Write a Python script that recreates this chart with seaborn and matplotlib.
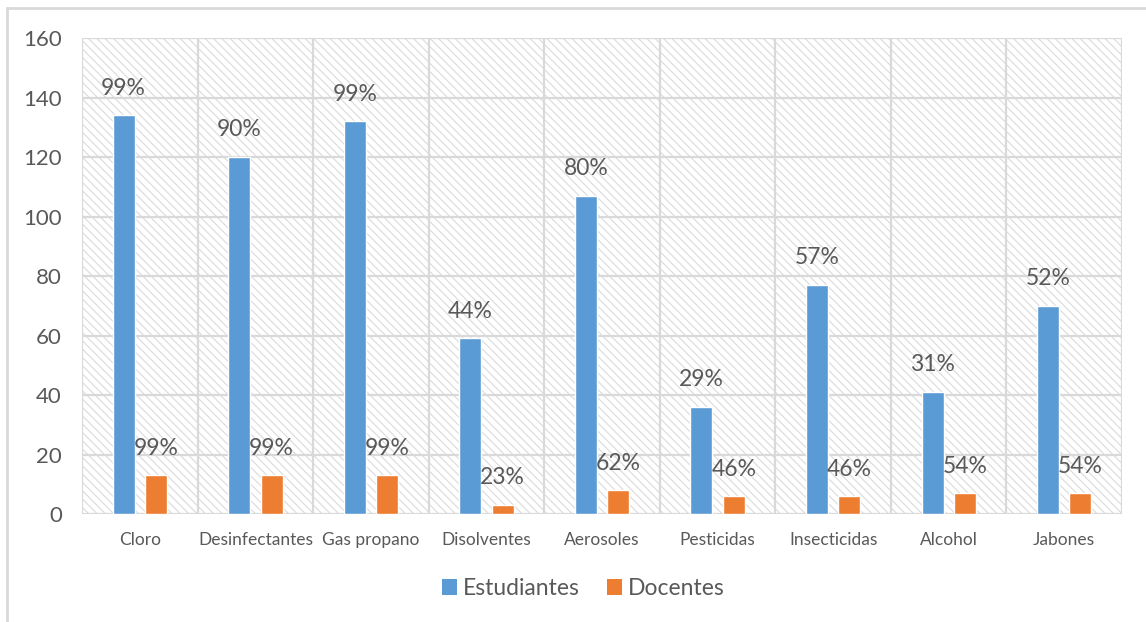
import matplotlib
matplotlib.use("Agg")
import matplotlib.pyplot as plt
from matplotlib.patches import Rectangle, Patch
from matplotlib.lines import Line2D
import seaborn as sns
import pandas as pd

categorias = ["Cloro", "Desinfectantes", "Gas propano", "Disolventes", "Aerosoles",
              "Pesticidas", "Insecticidas", "Alcohol", "Jabones"]
estudiantes = [134, 120, 132, 59, 107, 36, 77, 41, 70]
docentes = [13, 13, 13, 3, 8, 6, 6, 7, 7]
pct_estudiantes = ["99%", "90%", "99%", "44%", "80%", "29%", "57%", "31%", "52%"]
pct_docentes = ["99%", "99%", "99%", "23%", "62%", "46%", "46%", "54%", "54%"]
series = ["Estudiantes", "Docentes"]
colores = ["#5B9BD5", "#ED7D31"]
y_ticks = [0, 20, 40, 60, 80, 100, 120, 140, 160]

df = pd.DataFrame({
    "categoria": categorias * 2,
    "grupo": [series[0]] * len(categorias) + [series[1]] * len(categorias),
    "valor": estudiantes + docentes,
})

sns.set_theme(style="white")
plt.rcParams["font.family"] = ["Lato", "DejaVu Sans"]
plt.rcParams["hatch.linewidth"] = 0.8

texto = "#595959"
rejilla = "#D9D9D9"

fig = plt.figure(figsize=(11.46, 6.22), dpi=100)
ax = fig.add_axes([0.0716, 0.1736, 0.9075, 0.7653])

# hatched plot-area background
ax.add_patch(Rectangle((0, 0), 1, 1, transform=ax.transAxes, facecolor="white",
                       edgecolor="#DADADA", hatch="\\\\\\\\", linewidth=0, zorder=0))

sns.barplot(data=df, x="categoria", y="valor", hue="grupo", hue_order=series,
            palette=colores, width=0.56, gap=0.32, saturation=1, ax=ax,
            legend=False, zorder=3)

n = len(categorias)
ax.set_xlim(-0.5, n - 0.5)
ax.set_ylim(0, 160)
ax.set_yticks(y_ticks)

# grid: horizontal at each tick, vertical between categories
for y in y_ticks:
    ax.axhline(y, color=rejilla, lw=1.6, zorder=1)
for i in range(n + 1):
    ax.axvline(i - 0.5, color=rejilla, lw=1.6, zorder=1)

for s in ax.spines.values():
    s.set_visible(False)

# value labels
for cont, labels in zip(ax.containers, [pct_estudiantes, pct_docentes]):
    for bar, lab in zip(cont, labels):
        cx = bar.get_x() + bar.get_width() / 2
        ax.annotate(lab, (cx, bar.get_height()), xytext=(0, 12), textcoords="offset points",
                    ha="center", va="bottom", fontsize=16.5, color=texto, zorder=5)

ax.set_xlabel("")
ax.set_ylabel("")
ax.tick_params(axis="x", labelsize=12.5, colors=texto, length=0, pad=13)
ax.tick_params(axis="y", labelsize=16, colors=texto, length=0, pad=14.5)

handles = [Patch(facecolor=c, edgecolor="none") for c in colores]
fig.legend(handles, series, loc="center", bbox_to_anchor=(0.509, 0.054), ncol=2,
           frameon=False, fontsize=16.5, labelcolor=texto, handlelength=0.65,
           handleheight=0.65, handletextpad=0.25, columnspacing=1.2)

# chart frame: top and left edges
fig.add_artist(Line2D([0.006, 1.0], [0.987, 0.987], transform=fig.transFigure,
                      color="#D9D9D9", lw=2))
fig.add_artist(Line2D([0.006, 0.006], [0.0, 0.987], transform=fig.transFigure,
                      color="#D9D9D9", lw=2))

fig.savefig("out.png", dpi=100)
